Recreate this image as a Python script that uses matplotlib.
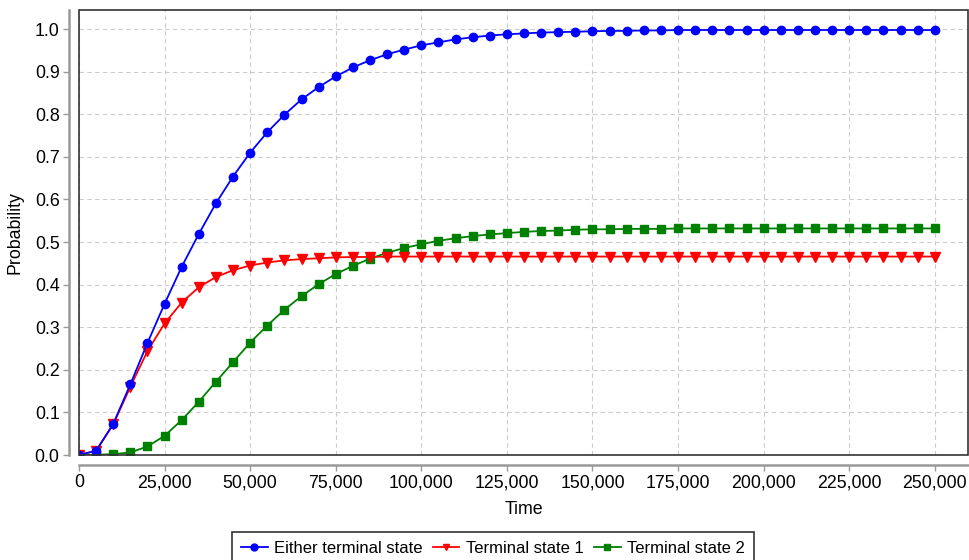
import matplotlib.pyplot as plt
from matplotlib.patches import Rectangle
from matplotlib.ticker import FuncFormatter, MultipleLocator

plt.rcParams['font.family'] = ['Liberation Sans', 'DejaVu Sans']

# sample times (every 5,000 time units)
time = list(range(0, 250001, 5000))

either = [0.0, 0.010, 0.073, 0.166, 0.263, 0.355, 0.442, 0.519, 0.591, 0.654,
          0.710, 0.758, 0.799, 0.835, 0.864, 0.889, 0.910, 0.927, 0.941, 0.952,
          0.962, 0.969, 0.976, 0.981, 0.985, 0.988, 0.990, 0.992, 0.993, 0.994,
          0.995, 0.996, 0.996, 0.997, 0.997] + [0.998] * 16

state1 = [0.0, 0.010, 0.072, 0.160, 0.244, 0.309, 0.358, 0.394, 0.418, 0.434,
          0.445, 0.452, 0.457, 0.460, 0.462, 0.464, 0.465, 0.465] + [0.466] * 33

state2 = [0.0, 0.0005, 0.002, 0.006, 0.020, 0.045, 0.082, 0.125, 0.172, 0.218,
          0.264, 0.304, 0.341, 0.373, 0.401, 0.425, 0.444, 0.461, 0.475, 0.486,
          0.495, 0.503, 0.509, 0.514, 0.518, 0.521, 0.524, 0.526, 0.527, 0.529,
          0.530, 0.530, 0.531, 0.531, 0.531] + [0.532] * 16

W, H = 969, 560
fig = plt.figure(figsize=(W / 100, H / 100), dpi=100)
ax = fig.add_axes([79 / W, (H - 455) / H, (968 - 79) / W, (455 - 10) / H])

ax.plot(time, either, color='#0000ff', marker='o', markersize=6, lw=1.3,
        label='Either terminal state', zorder=5)
ax.plot(time, state1, color='#ff0000', marker='v', markersize=6.5, lw=1.3,
        label='Terminal state 1', zorder=4)
ax.plot(time, state2, color='#008000', marker='s', markersize=5.5, lw=1.3,
        label='Terminal state 2', zorder=3)

ax.set_xlim(0, 259700)
ax.set_ylim(0, 1.045)
ax.xaxis.set_major_locator(MultipleLocator(25000))
ax.yaxis.set_major_locator(MultipleLocator(0.1))
ax.xaxis.set_major_formatter(FuncFormatter(lambda v, p: f'{int(v):,}'))
ax.yaxis.set_major_formatter(FuncFormatter(lambda v, p: f'{v:.1f}'))

ax.grid(True, color='#cccccc', linestyle=(0, (4, 3)), linewidth=0.8)
ax.set_axisbelow(True)

# offset axis lines like the original, plus a dark plot outline
for side in ['top', 'right']:
    ax.spines[side].set_visible(False)
for side in ['left', 'bottom']:
    ax.spines[side].set_position(('outward', 7))
    ax.spines[side].set_color('#9a9a9a')
    ax.spines[side].set_linewidth(1.8)
ax.add_patch(Rectangle((0, 0), 1, 1, transform=ax.transAxes, fill=False,
                       edgecolor='#333333', linewidth=1.2, clip_on=False, zorder=6))

ax.tick_params(axis='both', colors='#9a9a9a', length=4, width=1, labelsize=12.8,
               labelcolor='black', pad=3)

ax.set_xlabel('Time', fontsize=12.8, labelpad=7)
ax.set_ylabel('Probability', fontsize=12.8, labelpad=8)

leg = fig.legend(loc='upper center', bbox_to_anchor=(493 / W, 1 - 532 / H), ncol=3,
                 fontsize=12, frameon=True, fancybox=False, edgecolor='black',
                 handlelength=1.6, handletextpad=0.4, columnspacing=0.6,
                 borderpad=0.55, borderaxespad=0)
leg.get_frame().set_linewidth(1.2)
for h in leg.legend_handles:
    h.set_markersize(5)

fig.savefig('out.png', dpi=100)
